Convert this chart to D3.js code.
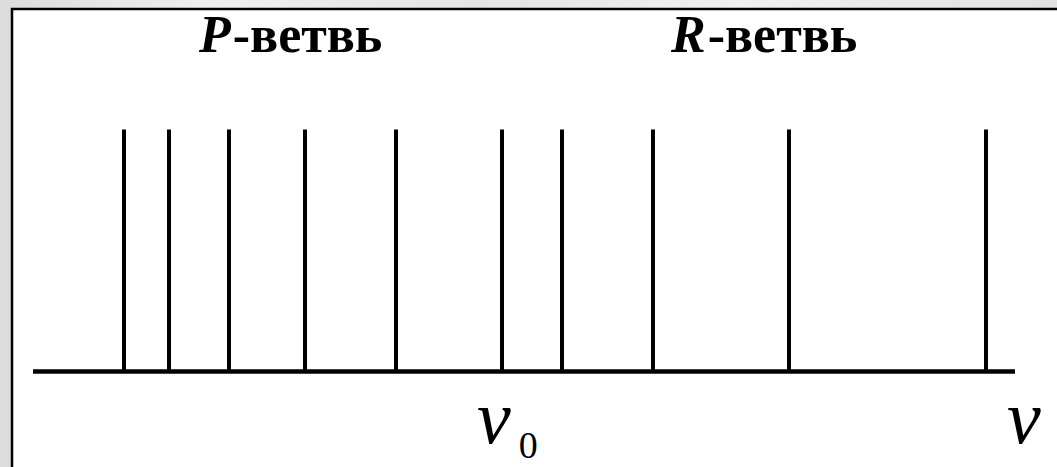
<!DOCTYPE html>
<html>
<head>
<meta charset="utf-8">
<script src="https://cdn.jsdelivr.net/npm/d3@7"></script>
<style>
html, body { margin: 0; padding: 0; width: 1057px; height: 467px; overflow: hidden; }
body { background: linear-gradient(90deg, #dcdcdc 0%, #efefef 20%, #e4e4e4 45%, #f0f0f0 70%, #e2e2e2 100%); }
svg { display: block; }
text { font-family: "Liberation Serif", "Times New Roman", Times, serif; }
</style>
</head>
<body>
<svg id="chart" width="1057" height="467"></svg>
<script>
// Spectral lines (relative frequency offsets from ν0, arbitrary units)
const pBranch = [-37.8, -33.3, -27.3, -19.7, -10.6];
const rBranch = [0, 6.0, 15.1, 28.7, 48.4];
const intensities = [1, 1, 1, 1, 1, 1, 1, 1, 1, 1];
const branchLabels = ["P", "R"];
const branchSuffix = "-ветвь";
const axisLabel = "ν";
const originLabel = "0";

const svg = d3.select("#chart");

// frame
svg.append("rect")
  .attr("x", 12).attr("y", 9)
  .attr("width", 1100).attr("height", 500)
  .attr("fill", "#ffffff")
  .attr("stroke", "#000").attr("stroke-width", 2.5);

const x = d3.scaleLinear().domain([-46.9, 51.3]).range([33, 1015]);
const y = d3.scaleLinear().domain([0, 1]).range([371.5, 129.5]);

const lines = pBranch.concat(rBranch).map((v, i) => ({ v, h: intensities[i] }));

svg.append("g").selectAll("line")
  .data(lines).join("line")
  .attr("x1", d => x(d.v)).attr("x2", d => x(d.v))
  .attr("y1", y(0)).attr("y2", d => y(d.h))
  .attr("stroke", "#000").attr("stroke-width", 4);

// baseline
svg.append("line")
  .attr("x1", x.range()[0]).attr("x2", x.range()[1])
  .attr("y1", y(0)).attr("y2", y(0))
  .attr("stroke", "#000").attr("stroke-width", 4.5);

// branch labels
const labelPos = [{ x: 199, lab: branchLabels[0] }, { x: 671, lab: branchLabels[1] }];
labelPos.forEach(d => {
  const t = svg.append("text")
    .attr("x", d.x).attr("y", 52)
    .attr("font-size", 52).attr("font-weight", "bold").attr("fill", "#000");
  t.append("tspan").attr("font-style", "italic").text(d.lab);
  t.append("tspan").attr("dx", 2).text(branchSuffix);
});

// ν0 label
const nu0 = svg.append("text")
  .attr("x", x(0) - 25).attr("y", 443)
  .attr("fill", "#000");
nu0.append("tspan").attr("font-size", 76).attr("font-style", "italic").text(axisLabel);
nu0.append("tspan").attr("font-size", 38).attr("dx", 8).attr("dy", 15).text(originLabel);

// ν label
svg.append("text")
  .attr("x", 1007).attr("y", 443)
  .attr("font-size", 76).attr("font-style", "italic").attr("fill", "#000")
  .text(axisLabel);
</script>
</body>
</html>
